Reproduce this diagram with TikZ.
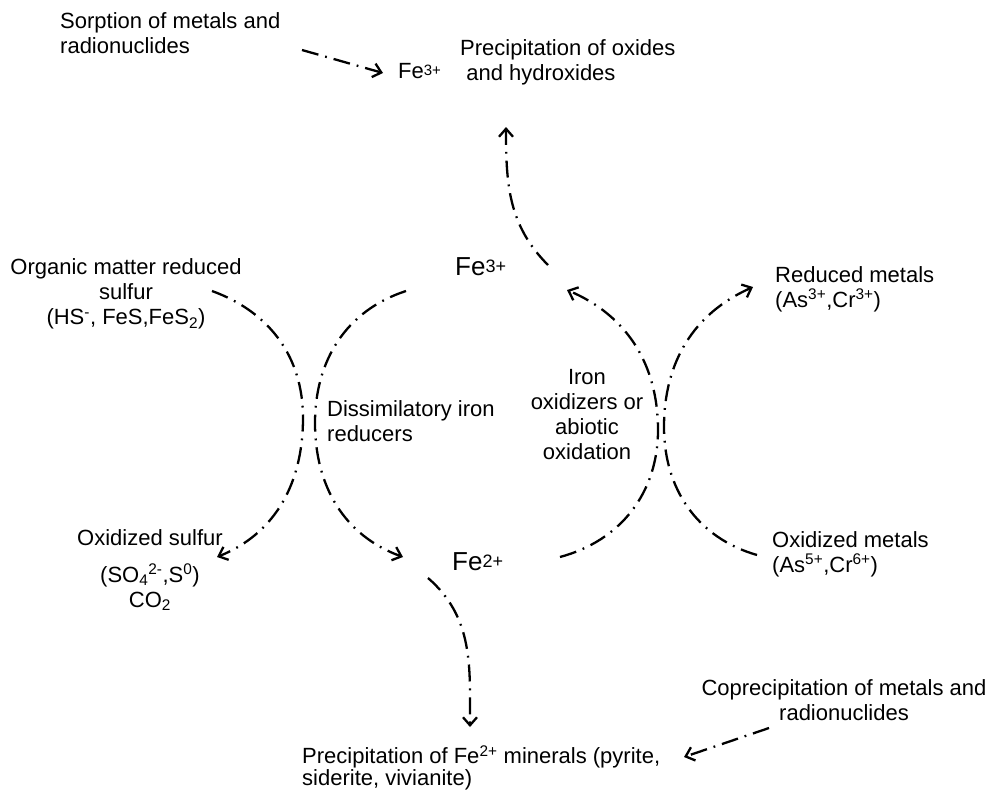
\documentclass[tikz,border=0pt]{standalone}
\usepackage{fontspec}
\setmainfont{Liberation Sans}
\usetikzlibrary{arrows.meta}

\begin{document}
\begin{tikzpicture}[x=1pt,y=-1pt,
  every node/.style={inner sep=0pt,font=\fontsize{22}{25}\selectfont},
  ion/.style={font=\fontsize{26}{29}\selectfont},
  flow/.style={line width=2.3pt,dash pattern=on 17pt off 7pt on 1.8pt off 7pt,
    -{Straight Barb[length=8pt,width=14pt]}}]
  \useasboundingbox (0,0) rectangle (987,790);

  \node (sorp) [anchor=west,align=left] at (60,33) {Sorption of metals and\\radionuclides};
  \node (fe3s) [anchor=base west] at (398,78) {Fe\raisebox{3pt}{\fontsize{15}{15}\selectfont 3+}};
  \node (oxhy) [anchor=west,align=left] at (460,62) {Precipitation of oxides\\~and hydroxides};
  \node (fe3) [ion,anchor=base west] at (455,275) {Fe\raisebox{3pt}{\fontsize{18}{18}\selectfont 3+}};
  \node (fe2) [ion,anchor=base west] at (452,570) {Fe\raisebox{3pt}{\fontsize{18}{18}\selectfont 2+}};
  \node (org) [align=center] at (126,294) {Organic matter reduced\\sulfur\\(HS\textsuperscript{-}, FeS,FeS\textsubscript{2})};
  \node (diss) [anchor=west,align=left] at (327,421) {Dissimilatory iron\\reducers};
  \node (iron) [align=center] at (587,415) {Iron\\oxidizers or\\abiotic\\oxidation};
  \node (red) [anchor=west,align=left] at (775,289) {Reduced metals\\(As\textsuperscript{3+},Cr\textsuperscript{3+})};
  \node (oxm) [anchor=west,align=left] at (772,554) {Oxidized metals\\(As\textsuperscript{5+},Cr\textsuperscript{6+})};
  \node (oxs) [align=center] at (150,570) {Oxidized sulfur\\[12pt](SO\textsubscript{4}\textsuperscript{2-},S\textsuperscript{0})\\CO\textsubscript{2}};
  \node (copr) [align=center] at (844,700) {Coprecipitation of metals and\\radionuclides};
  \node (mins) [anchor=west,align=left] at (302,768) {Precipitation of Fe\textsuperscript{2+} minerals (pyrite,\\[-3pt]siderite, vivianite)};

  \coordinate (org-out) at (212,291);
  \coordinate (left-a) at (303,418);
  \coordinate (oxs-in) at (217,557);
  \coordinate (fe3-l) at (406,291);
  \coordinate (left-b) at (315,423);
  \coordinate (fe2-l) at (403,557);
  \coordinate (fe2-r) at (560,557);
  \coordinate (right-a) at (658,430);
  \coordinate (fe3-r) at (567,290);
  \coordinate (oxm-out) at (757,555);
  \coordinate (right-b) at (664,427);
  \coordinate (red-in) at (753,287);
  \coordinate (fe3-t) at (548,265);
  \coordinate (oxhy-in) at (506,127);
  \coordinate (fe2-b) at (428,578);
  \coordinate (mins-in) at (470,727);
  \coordinate (sorp-out) at (302,50);
  \coordinate (fe3s-in) at (383,73);
  \coordinate (copr-out) at (769,728);
  \coordinate (mins-r) at (684,757);

  \draw [flow] (org-out) to[out=-20,in=90] (left-a) to[out=-90,in=22] (oxs-in);
  \draw [flow] (fe3-l) to[out=-162,in=90] (left-b) to[out=-90,in=160] (fe2-l);
  \draw [flow] (fe2-r) to[out=15,in=-90] (right-a) to[out=90,in=-23] (fe3-r);
  \draw [flow] (oxm-out) to[out=164,in=-90] (right-b) to[out=90,in=-156] (red-in);
  \draw [flow] (fe3-t) to[out=135,in=-90] (oxhy-in);
  \draw [flow] (fe2-b) to[out=-41,in=90] (mins-in);
  \draw [flow] (sorp-out) -- (fe3s-in);
  \draw [flow] (copr-out) -- (mins-r);
\end{tikzpicture}
\end{document}
